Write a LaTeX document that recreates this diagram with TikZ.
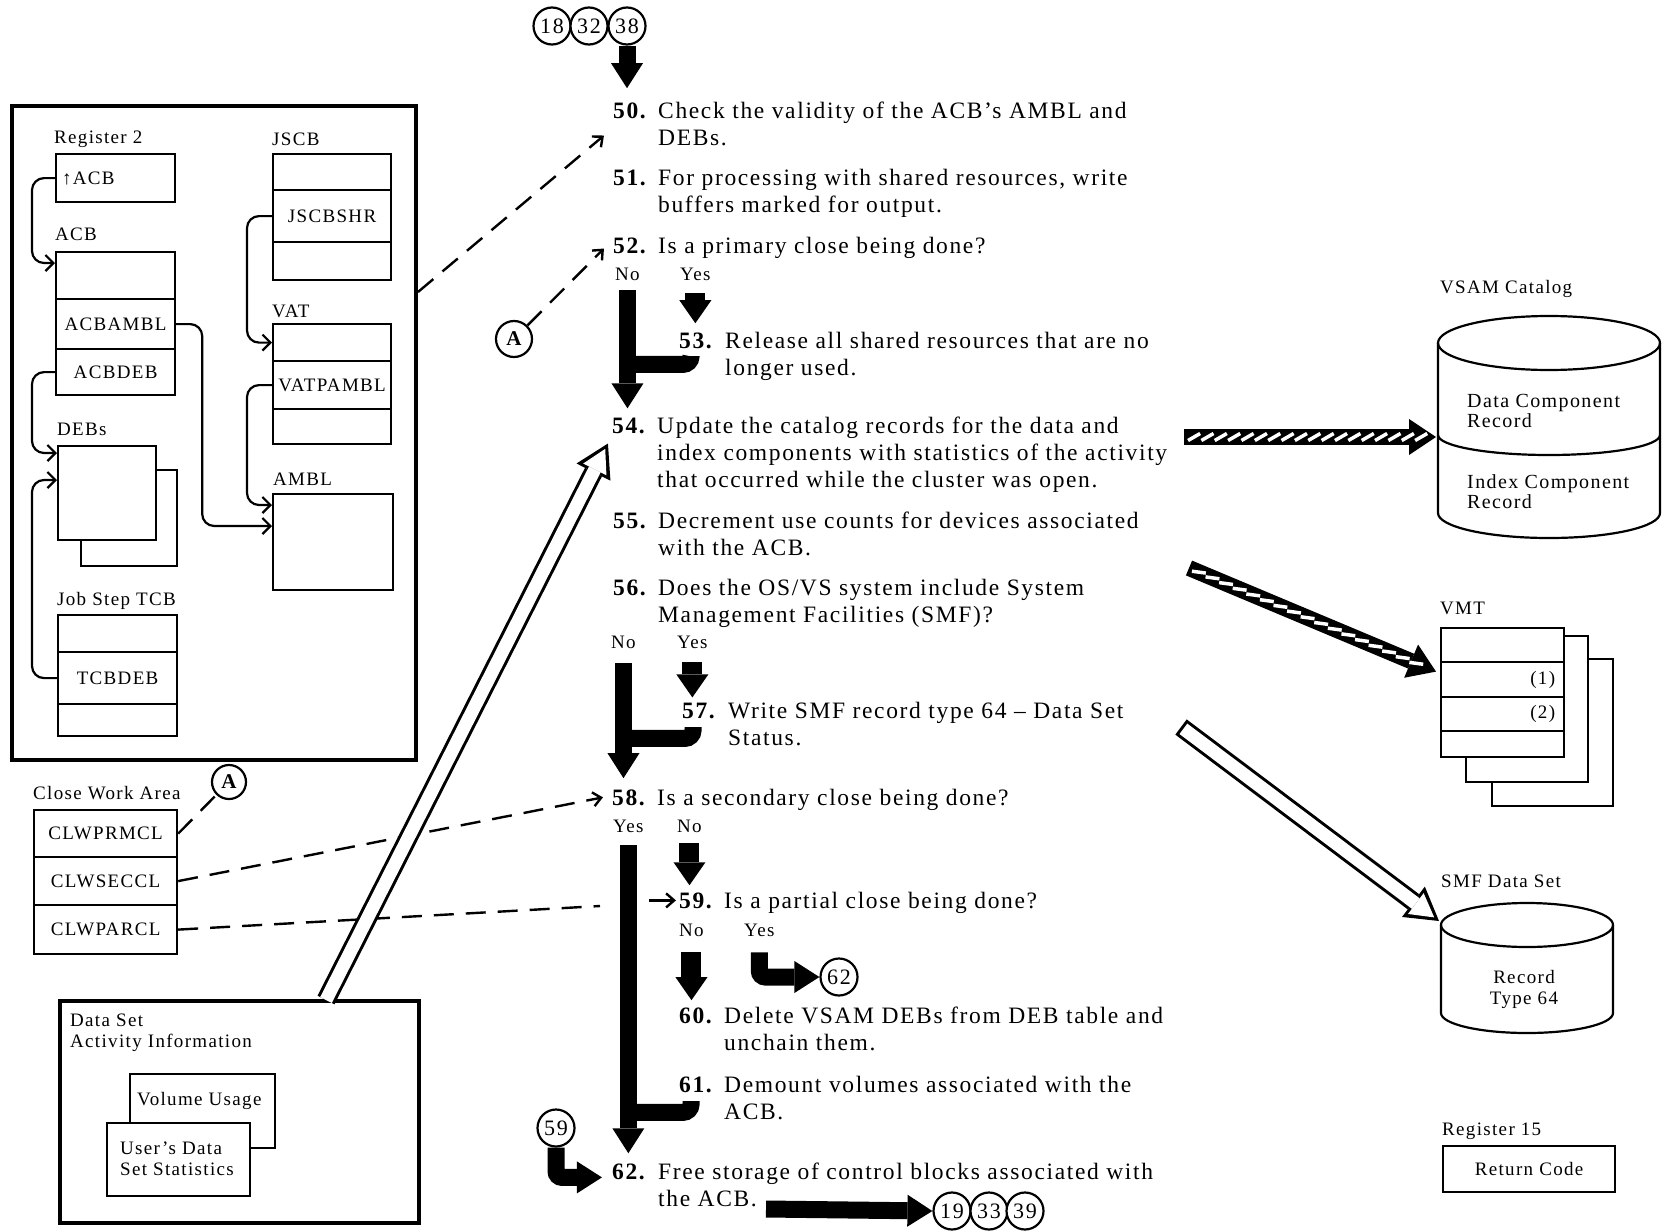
\documentclass[tikz,border=0pt]{standalone}
\usepackage{fontspec}
\setmainfont{Liberation Serif}[LetterSpace=7.0]
\usetikzlibrary{arrows.meta, calc}

% font sizes of the chart (one unit = 1pt)
\newcommand{\bodyfont}{\fontsize{23.5}{27}\selectfont}
\newcommand{\lblfont}{\fontsize{19}{21}\selectfont}

\tikzset{
  cell/.style={draw, line width=2.2pt, inner sep=0pt, anchor=north west, font=\lblfont},
  panelbox/.style={draw, line width=4pt, inner sep=0pt, anchor=north west},
  lbl/.style={inner sep=0pt, anchor=base west, font=\lblfont},
  stepno/.style={inner sep=0pt, anchor=base east, font=\bodyfont\bfseries},
  steptext/.style={inner sep=0pt, anchor=north west, align=left, font=\bodyfont},
  conn/.style={draw, circle, line width=2.2pt, fill=white, minimum size=37pt, inner sep=0pt, font=\fontsize{22}{22}\selectfont},
  ptr/.style={line width=2.2pt, rounded corners=12pt, -{Straight Barb[length=8pt,width=16pt]}},
  refline/.style={line width=2.4pt, dash pattern=on 20pt off 12pt, -{Straight Barb[length=8pt,width=14pt]}},
  flow/.style={line width=17pt, -{Triangle[length=25pt,width=32pt,line width=0pt]}},
  stub/.style={line width=20pt, -{Triangle[length=23pt,width=32pt,line width=0pt]}},
  bendbar/.style={line width=17pt, rounded corners=8pt},
  hollowout/.style={line width=19pt, -{Triangle[length=32pt,width=38pt,line width=0pt]}},
  hollowin/.style={white, line width=13pt, -{Triangle[length=23pt,width=26pt,line width=0pt]}},
  hatch/.style={line width=16pt, -{Triangle[length=27pt,width=36pt,line width=0pt]}},
  stripe/.style={white, line width=3.5pt},
  cyl/.style={line width=2.2pt}
}

\begin{document}
\begin{tikzpicture}[x=1pt, y=-1pt]
\useasboundingbox (0,0) rectangle (1665,1231);

% ---- control blocks panel ----
\node[panelbox, minimum width=404pt, minimum height=654pt] (panel) at (10,104) {};
\node[lbl] (lreg2) at (54,143) {Register 2};
\node[cell, minimum width=119pt, minimum height=48pt, inner xsep=6pt, text width=107pt, align=left] (reg2) at (55,153) {↑ACB};
\node[lbl] (lacb) at (55,240) {ACB};
\node[cell, minimum width=119pt, minimum height=47pt] (acb1) at (55,251) {};
\node[cell, minimum width=119pt, minimum height=50pt] (acb2) at (55,298) {ACBAMBL};
\node[cell, minimum width=119pt, minimum height=46pt] (acb3) at (55,348) {ACBDEB};
\node[lbl] (ldeb) at (57,435) {DEBs};
\node[cell, minimum width=96pt, minimum height=96pt] (debb) at (80,469) {};
\node[cell, fill=white, minimum width=98pt, minimum height=94pt] (debf) at (57,445) {};
\node[lbl] (ltcb) at (57,605) {Job Step TCB};
\node[cell, minimum width=119pt, minimum height=37pt] (tcb1) at (57,614) {};
\node[cell, minimum width=119pt, minimum height=52pt] (tcb2) at (57,651) {TCBDEB};
\node[cell, minimum width=119pt, minimum height=32pt] (tcb3) at (57,703) {};
\node[lbl] (ljscb) at (272,145) {JSCB};
\node[cell, minimum width=118pt, minimum height=36pt] (jscb1) at (272,153) {};
\node[cell, minimum width=118pt, minimum height=52pt] (jscb2) at (272,189) {JSCBSHR};
\node[cell, minimum width=118pt, minimum height=38pt] (jscb3) at (272,241) {};
\node[lbl] (lvat) at (272,317) {VAT};
\node[cell, minimum width=118pt, minimum height=37pt] (vat1) at (272,323) {};
\node[cell, minimum width=118pt, minimum height=48pt] (vat2) at (272,360) {VATPAMBL};
\node[cell, minimum width=118pt, minimum height=35pt] (vat3) at (272,408) {};
\node[lbl] (lambl) at (273,485) {AMBL};
\node[cell, minimum width=120pt, minimum height=96pt] (ambl) at (272,493) {};
% pointers between the blocks
\draw[ptr] (reg2.west) -- ++(-23,0) |- ($(acb1.north west)+(0,12)$);
\draw[ptr] (acb3.west) -- ++(-23,0) |- ($(debf.north west)+(0,8)$);
\draw[ptr] (tcb2.west) -- ++(-25,0) |- ($(debf.north west)+(0,35)$);
\draw[ptr] (jscb2.west) -- ++(-25,0) |- (vat1.west);
\draw[ptr] (vat2.west) -- ++(-25,0) |- ($(ambl.north west)+(0,12)$);
\draw[ptr] (acb2.east) -- ++(26,0) |- ($(ambl.north west)+(0,33)$);

% ---- close work area ----
\node[lbl] (lcw) at (33,799) {Close Work Area};
\node[cell, minimum width=143pt, minimum height=47pt] (cw1) at (33,809) {CLWPRMCL};
\node[cell, minimum width=143pt, minimum height=48pt] (cw2) at (33,856) {CLWSECCL};
\node[cell, minimum width=143pt, minimum height=49pt] (cw3) at (33,904) {CLWPARCL};
\node[conn, minimum size=34pt, font=\fontsize{21}{21}\selectfont\bfseries] (cA2) at (229,782) {A};

% ---- data set activity information ----
\node[panelbox, minimum width=359pt, minimum height=222pt] (dsa) at (58,999) {};
\node[lbl, anchor=north west, align=left] (ldsa) at (70,1014) {Data Set\\Activity Information};
\node[cell, minimum width=145pt, minimum height=74pt] (vol) at (129,1073) {};
\node[lbl] (lvol) at (137,1105) {Volume Usage};
\node[cell, fill=white, minimum width=143pt, minimum height=73pt] (usr) at (106,1122) {};
\node[lbl, anchor=north west, align=left] (lusr) at (120,1142) {User’s Data\\Set Statistics};

% ---- steps ----
\node[conn] (c18) at (552,26) {18};
\node[conn] (c32) at (589,26) {32};
\node[conn] (c38) at (627,26) {38};
\node[stepno] (n50) at (646,118) {50.};
\node[steptext] (t50) at (658,102) {Check the validity of the ACB’s AMBL and\\DEBs.};
\node[stepno] (n51) at (646,185) {51.};
\node[steptext] (t51) at (658,169) {For processing with shared resources, write\\buffers marked for output.};
\node[stepno] (n52) at (646,253) {52.};
\node[steptext] (t52) at (658,237) {Is a primary close being done?};
\node[lbl] (no52) at (615,280) {No};
\node[lbl] (yes52) at (680,280) {Yes};
\node[stepno] (n53) at (712,348) {53.};
\node[steptext] (t53) at (725,332) {Release all shared resources that are no\\longer used.};
\node[stepno] (n54) at (645,433) {54.};
\node[steptext] (t54) at (657,417) {Update the catalog records for the data and\\index components with statistics of the activity\\that occurred while the cluster was open.};
\node[stepno] (n55) at (646,528) {55.};
\node[steptext] (t55) at (658,512) {Decrement use counts for devices associated\\with the ACB.};
\node[stepno] (n56) at (646,595) {56.};
\node[steptext] (t56) at (658,579) {Does the OS/VS system include System\\Management Facilities (SMF)?};
\node[lbl] (no56) at (611,648) {No};
\node[lbl] (yes56) at (677,648) {Yes};
\node[stepno] (n57) at (715,718) {57.};
\node[steptext] (t57) at (728,702) {Write SMF record type 64 -- Data Set\\Status.};
\node[stepno] (n58) at (645,805) {58.};
\node[steptext] (t58) at (657,789) {Is a secondary close being done?};
\node[lbl] (yes58) at (613,832) {Yes};
\node[lbl] (no58) at (677,832) {No};
\node[stepno] (n59) at (712,908) {59.};
\node[steptext] (t59) at (724,892) {Is a partial close being done?};
\node[lbl] (no59) at (679,936) {No};
\node[lbl] (yes59) at (744,936) {Yes};
\node[conn] (c62) at (839,977) {62};
\node[stepno] (n60) at (712,1023) {60.};
\node[steptext] (t60) at (724,1007) {Delete VSAM DEBs from DEB table and\\unchain them.};
\node[stepno] (n61) at (712,1092) {61.};
\node[steptext] (t61) at (724,1076) {Demount volumes associated with the\\ACB.};
\node[conn] (c59) at (556,1128) {59};
\node[stepno] (n62) at (645,1179) {62.};
\node[steptext] (t62) at (658,1163) {Free storage of control blocks associated with\\the ACB.};
\node[conn] (c19) at (952,1211) {19};
\node[conn] (c33) at (989,1211) {33};
\node[conn] (c39) at (1025,1211) {39};

% main flow
\draw[flow, shorten >=14pt] (c38.south) -- (c38.south |- n50.north);
\draw[flow, shorten <=10pt, shorten >=9pt] (no52.south) -- (no52.south |- n54.north);
\draw[stub, shorten <=13pt, shorten >=9pt] (yes52.south) -- (yes52.south |- n53.north);
\coordinate (j53) at (691,356);
\draw[bendbar] (j53) |- ($(no52.south)+(0,84)$);
\draw[flow, shorten <=15pt, shorten >=11pt] (no56.south) -- (no56.south |- n58.north);
\draw[stub, shorten <=14pt, shorten >=5pt] (yes56.south) -- (yes56.south |- n57.north);
\coordinate (j57) at (693,727);
\draw[bendbar] (j57) |- ($(no56.south)+(0,90)$);
\draw[flow, shorten <=13pt, shorten >=10pt] (yes58.south) -- (yes58.south |- n62.north);
\draw[stub, shorten <=11pt, shorten >=7pt] (no58.south) -- (no58.south |- n59.north);
\draw[stub, shorten <=16pt, shorten >=7pt] (no59.south) -- (no59.south |- n60.north);
\draw[flow, rounded corners=6pt, shorten <=16pt] (yes59.south) |- (c62.west);
\coordinate (j61) at (691,1101);
\draw[bendbar] (j61) |- ($(yes58.south)+(0,280)$);
\draw[flow, rounded corners=6pt, shorten >=10pt] (c59.south) |- ([yshift=-6pt]n62.west);
\coordinate (o62) at (766,1209);
\draw[flow] (o62) -- (c19.west);

% dashed references
\node[conn, minimum size=36pt, font=\fontsize{21}{21}\selectfont\bfseries] (cA) at (514,339) {A};
\draw[refline] ($(panel.north east)+(0,188)$) -- ($(n50.south west)+(-9,17)$);
\draw[refline] (cA) -- ($(n52.south west)+(-9,-5)$);
\draw[refline, -] (cw1.east) -- (cA2);
\draw[refline] (cw2.east) -- ($(n58.west)+(-9,0)$);
\coordinate (d59) at (600,906);
\draw[refline, -] (cw3.east) -- (d59);
\draw[line width=2.4pt, -{Straight Barb[length=8pt,width=14pt]}] ($(n59.west)+(-30,0)$) -- ($(n59.west)+(-3,0)$);

% activity information into step 54
\coordinate (h1a) at ($(dsa.north west)+(268,1)$);
\coordinate (h1b) at ($(n54.south west)+(-4,10)$);
\draw[hollowout] (h1a) -- (h1b);
\draw[hollowin, shorten >=6pt] (h1a) -- (h1b);

% ---- VSAM catalog ----
\node[lbl] (lvsam) at (1440,293) {VSAM Catalog};
\draw[cyl] (1549,343) ellipse [x radius=111, y radius=27];
\draw[cyl] (1438,343) -- (1438,513) arc [start angle=180, end angle=0, x radius=111, y radius=25] -- (1660,343);
\draw[cyl] (1438,435) arc [start angle=180, end angle=0, x radius=111, y radius=20];
\node[lbl, anchor=north west, align=left, font=\fontsize{20}{20}\selectfont] (ldcr) at (1467,394) {Data Component\\Record};
\node[lbl, anchor=north west, align=left, font=\fontsize{20}{20}\selectfont] (licr) at (1467,474) {Index Component\\Record};
\coordinate (h2a) at (1184,437);
\coordinate (vsamw) at (1436,437);
\draw[hatch] (h2a) -- (vsamw);
\foreach \t in {0.04,0.093,...,0.95}
  \draw[stripe] ($(h2a)!\t!(vsamw)!7pt!30:(vsamw)$) -- ($(h2a)!\t!(vsamw)!-7pt!30:(vsamw)$);

% ---- VMT ----
\node[lbl] (lvmt) at (1440,614) {VMT};
\node[cell, minimum width=121pt, minimum height=147pt] (vmtc) at (1491,658) {};
\node[cell, fill=white, minimum width=122pt, minimum height=146pt] (vmtb) at (1465,635) {};
\node[cell, fill=white, minimum width=123pt, minimum height=34pt] (vmt1) at (1440,627) {};
\node[cell, fill=white, minimum width=123pt, minimum height=35pt, inner xsep=9pt, text width=105pt, align=right] (vmt2) at (1440,661) {(1)};
\node[cell, fill=white, minimum width=123pt, minimum height=34pt, inner xsep=9pt, text width=105pt, align=right] (vmt3) at (1440,696) {(2)};
\node[cell, fill=white, minimum width=123pt, minimum height=26pt] (vmt4) at (1440,730) {};
\coordinate (h3a) at (1189,568);
\coordinate (vmtw) at ($(vmt2.west)+(-4,-8)$);
\draw[hatch] (h3a) -- (vmtw);
\foreach \t in {0.04,0.095,...,0.95}
  \draw[stripe] ($(h3a)!\t!(vmtw)!7pt!15:(vmtw)$) -- ($(h3a)!\t!(vmtw)!-7pt!15:(vmtw)$);

% ---- SMF data set ----
\node[lbl] (lsmf) at (1441,887) {SMF Data Set};
\draw[cyl] (1527,925) ellipse [x radius=86, y radius=22];
\draw[cyl] (1441,925) -- (1441,1013) arc [start angle=180, end angle=0, x radius=86, y radius=20] -- (1613,925);
\node[lbl, anchor=north, align=center] (lrec) at (1524,970) {Record\\Type 64};
\coordinate (h4a) at (1181,727);
\coordinate (smfnw) at (1439,921);
\draw[hollowout] (h4a) -- (smfnw);
\draw[hollowin, shorten <=3pt, shorten >=6pt] (h4a) -- (smfnw);

% ---- register 15 ----
\node[lbl] (lreg15) at (1442,1135) {Register 15};
\node[cell, minimum width=172pt, minimum height=46pt] (reg15) at (1442,1145) {Return Code};
\end{tikzpicture}
\end{document}
